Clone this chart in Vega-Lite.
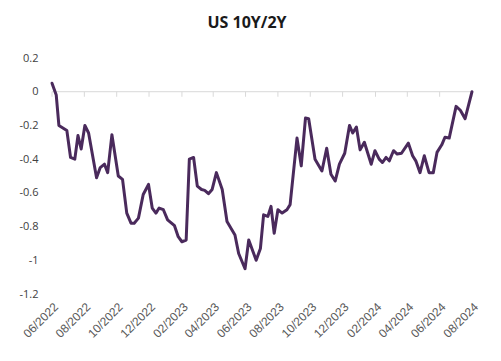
{
  "$schema": "https://vega.github.io/schema/vega-lite/v6.json",
  "width": 420,
  "height": 236,
  "autosize": {"type": "none"},
  "padding": {"left": 52, "top": 58, "right": 29, "bottom": 67},
  "background": "#ffffff",
  "config": {"view": {"stroke": null}},
  "title": {
    "text": "US 10Y/2Y",
    "font": "Open Sans",
    "fontSize": 16,
    "fontWeight": "bold",
    "color": "#1a1a1a",
    "anchor": "middle",
    "frame": "group",
    "dx": -15,
    "dy": 6,
    "baseline": "alphabetic",
    "offset": 14
  },
  "datasets": {
    "spread": [
      {"date": "2022-06-01", "value": 0.05},
      {"date": "2022-06-09", "value": -0.02},
      {"date": "2022-06-14", "value": -0.2},
      {"date": "2022-06-29", "value": -0.23},
      {"date": "2022-07-06", "value": -0.39},
      {"date": "2022-07-14", "value": -0.4},
      {"date": "2022-07-20", "value": -0.26},
      {"date": "2022-07-26", "value": -0.34},
      {"date": "2022-08-02", "value": -0.2},
      {"date": "2022-08-09", "value": -0.245},
      {"date": "2022-08-24", "value": -0.51},
      {"date": "2022-08-31", "value": -0.45},
      {"date": "2022-09-08", "value": -0.43},
      {"date": "2022-09-14", "value": -0.48},
      {"date": "2022-09-22", "value": -0.255},
      {"date": "2022-10-04", "value": -0.5},
      {"date": "2022-10-12", "value": -0.52},
      {"date": "2022-10-20", "value": -0.72},
      {"date": "2022-10-28", "value": -0.78},
      {"date": "2022-11-03", "value": -0.78},
      {"date": "2022-11-11", "value": -0.75},
      {"date": "2022-11-20", "value": -0.61},
      {"date": "2022-11-30", "value": -0.55},
      {"date": "2022-12-07", "value": -0.69},
      {"date": "2022-12-14", "value": -0.72},
      {"date": "2022-12-20", "value": -0.69},
      {"date": "2022-12-28", "value": -0.7},
      {"date": "2023-01-05", "value": -0.76},
      {"date": "2023-01-18", "value": -0.795},
      {"date": "2023-01-25", "value": -0.86},
      {"date": "2023-02-01", "value": -0.89},
      {"date": "2023-02-09", "value": -0.88},
      {"date": "2023-02-15", "value": -0.4},
      {"date": "2023-02-23", "value": -0.39},
      {"date": "2023-03-02", "value": -0.56},
      {"date": "2023-03-10", "value": -0.58},
      {"date": "2023-03-16", "value": -0.585},
      {"date": "2023-03-23", "value": -0.605},
      {"date": "2023-03-30", "value": -0.58},
      {"date": "2023-04-07", "value": -0.48},
      {"date": "2023-04-18", "value": -0.58},
      {"date": "2023-04-27", "value": -0.77},
      {"date": "2023-05-12", "value": -0.85},
      {"date": "2023-05-19", "value": -0.96},
      {"date": "2023-05-31", "value": -1.05},
      {"date": "2023-06-07", "value": -0.88},
      {"date": "2023-06-21", "value": -1.0},
      {"date": "2023-06-29", "value": -0.93},
      {"date": "2023-07-05", "value": -0.73},
      {"date": "2023-07-13", "value": -0.74},
      {"date": "2023-07-19", "value": -0.68},
      {"date": "2023-07-25", "value": -0.84},
      {"date": "2023-08-01", "value": -0.7},
      {"date": "2023-08-09", "value": -0.72},
      {"date": "2023-08-18", "value": -0.7},
      {"date": "2023-08-24", "value": -0.67},
      {"date": "2023-09-06", "value": -0.275},
      {"date": "2023-09-14", "value": -0.44},
      {"date": "2023-09-22", "value": -0.156},
      {"date": "2023-09-28", "value": -0.16},
      {"date": "2023-10-10", "value": -0.4},
      {"date": "2023-10-23", "value": -0.47},
      {"date": "2023-11-01", "value": -0.335},
      {"date": "2023-11-09", "value": -0.49},
      {"date": "2023-11-17", "value": -0.53},
      {"date": "2023-11-25", "value": -0.43},
      {"date": "2023-12-05", "value": -0.365},
      {"date": "2023-12-14", "value": -0.2},
      {"date": "2023-12-20", "value": -0.245},
      {"date": "2023-12-27", "value": -0.21},
      {"date": "2024-01-03", "value": -0.345},
      {"date": "2024-01-11", "value": -0.3},
      {"date": "2024-01-24", "value": -0.43},
      {"date": "2024-01-31", "value": -0.35},
      {"date": "2024-02-08", "value": -0.4},
      {"date": "2024-02-14", "value": -0.42},
      {"date": "2024-02-21", "value": -0.39},
      {"date": "2024-02-27", "value": -0.41},
      {"date": "2024-03-06", "value": -0.35},
      {"date": "2024-03-13", "value": -0.37},
      {"date": "2024-03-21", "value": -0.365},
      {"date": "2024-04-03", "value": -0.305},
      {"date": "2024-04-11", "value": -0.38},
      {"date": "2024-04-17", "value": -0.41},
      {"date": "2024-04-25", "value": -0.48},
      {"date": "2024-05-03", "value": -0.38},
      {"date": "2024-05-12", "value": -0.48},
      {"date": "2024-05-20", "value": -0.48},
      {"date": "2024-05-27", "value": -0.36},
      {"date": "2024-06-05", "value": -0.315},
      {"date": "2024-06-11", "value": -0.27},
      {"date": "2024-06-19", "value": -0.275},
      {"date": "2024-07-02", "value": -0.087},
      {"date": "2024-07-10", "value": -0.11},
      {"date": "2024-07-19", "value": -0.16},
      {"date": "2024-08-01", "value": 0.0}
    ],
    "ticks": [
      {"date": "2022-06-01", "value": 0, "bottom": -0.03},
      {"date": "2022-08-01", "value": 0, "bottom": -0.03},
      {"date": "2022-10-01", "value": 0, "bottom": -0.03},
      {"date": "2022-12-01", "value": 0, "bottom": -0.03},
      {"date": "2023-02-01", "value": 0, "bottom": -0.03},
      {"date": "2023-04-01", "value": 0, "bottom": -0.03},
      {"date": "2023-06-01", "value": 0, "bottom": -0.03},
      {"date": "2023-08-01", "value": 0, "bottom": -0.03},
      {"date": "2023-10-01", "value": 0, "bottom": -0.03},
      {"date": "2023-12-01", "value": 0, "bottom": -0.03},
      {"date": "2024-02-01", "value": 0, "bottom": -0.03},
      {"date": "2024-04-01", "value": 0, "bottom": -0.03},
      {"date": "2024-06-01", "value": 0, "bottom": -0.03},
      {"date": "2024-08-01", "value": 0, "bottom": -0.03}
    ],
    "zero": [
      {"date": "2022-06-01", "end": "2024-08-01", "value": 0}
    ]
  },
  "encoding": {
    "x": {
      "field": "date",
      "type": "temporal",
      "scale": {"type": "utc", "domain": [{"year": 2022, "month": 6, "date": 1, "utc": true}, {"year": 2024, "month": 8, "date": 1, "utc": true}]},
      "axis": {
        "title": null,
        "orient": "bottom",
        "domain": false,
        "ticks": false,
        "grid": false,
        "labelExpr": "utcFormat(datum.value, '%m/%Y')",
        "labelAngle": -45,
        "labelAlign": "right",
        "labelBaseline": "top",
        "labelPadding": 7,
        "labelFont": "Liberation Sans",
        "labelFontSize": 12,
        "labelColor": "#595959",
        "labelOverlap": false,
        "values": [
          {"year": 2022, "month": 6, "date": 1, "utc": true},
          {"year": 2022, "month": 8, "date": 1, "utc": true},
          {"year": 2022, "month": 10, "date": 1, "utc": true},
          {"year": 2022, "month": 12, "date": 1, "utc": true},
          {"year": 2023, "month": 2, "date": 1, "utc": true},
          {"year": 2023, "month": 4, "date": 1, "utc": true},
          {"year": 2023, "month": 6, "date": 1, "utc": true},
          {"year": 2023, "month": 8, "date": 1, "utc": true},
          {"year": 2023, "month": 10, "date": 1, "utc": true},
          {"year": 2023, "month": 12, "date": 1, "utc": true},
          {"year": 2024, "month": 2, "date": 1, "utc": true},
          {"year": 2024, "month": 4, "date": 1, "utc": true},
          {"year": 2024, "month": 6, "date": 1, "utc": true},
          {"year": 2024, "month": 8, "date": 1, "utc": true}
        ]
      }
    },
    "y": {
      "field": "value",
      "type": "quantitative",
      "scale": {"domain": [-1.2, 0.2], "nice": false, "zero": false},
      "axis": {
        "title": null,
        "domain": false,
        "ticks": false,
        "grid": false,
        "values": [0.2, 0, -0.2, -0.4, -0.6, -0.8, -1, -1.2],
        "format": "~g",
        "labelExpr": "replace(datum.label, '\u2212', '-')",
        "labelOverlap": false,
        "labelFont": "Open Sans",
        "labelFontSize": 11,
        "labelColor": "#404040",
        "labelPadding": 14
      }
    }
  },
  "layer": [
    {
      "data": {"name": "zero"},
      "mark": {"type": "rule", "color": "#d9d9d9", "strokeWidth": 1},
      "encoding": {
        "x2": {"field": "end"}
      }
    },
    {
      "data": {"name": "ticks"},
      "mark": {"type": "rule", "color": "#d9d9d9", "strokeWidth": 1},
      "encoding": {
        "y2": {"field": "bottom"}
      }
    },
    {
      "data": {"name": "spread"},
      "mark": {"type": "line", "color": "#4a2a5c", "strokeWidth": 3, "strokeJoin": "round", "strokeCap": "round"},
      "encoding": {}
    }
  ]
}
